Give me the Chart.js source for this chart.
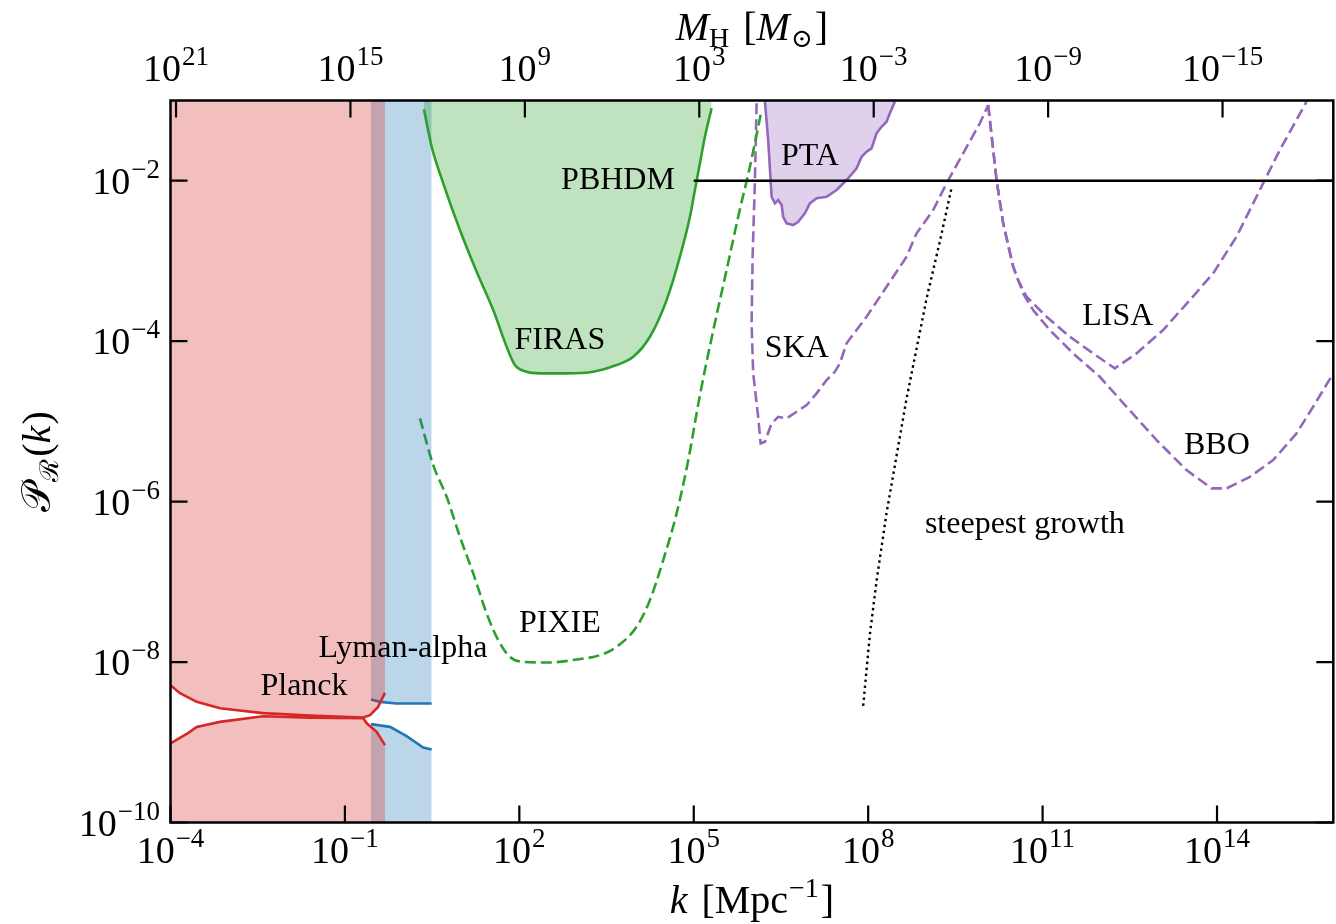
<!DOCTYPE html>
<html>
<head>
<meta charset="utf-8">
<script src="https://cdn.jsdelivr.net/npm/chart.js@4.4.1/dist/chart.umd.min.js"></script>
<style>
  html, body { margin: 0; padding: 0; background: #fff; }
  canvas { display: block; }
</style>
</head>
<body>
<canvas id="chart" width="1336" height="924"></canvas>
<script>
// Все значения хранятся как log10(k) и log10(P)
const planckUpperLogK = [-4.00, -3.837, -3.549, -3.149, -2.409, -1.601, -0.684, -0.569, -0.432, -0.311];
const planckUpperLogP = [-8.288, -8.388, -8.496, -8.575, -8.637, -8.668, -8.691, -8.662, -8.562, -8.384];
const planckLowerLogK = [-4.00, -3.699, -3.549, -3.149, -2.409, -1.601, -0.684, -0.621, -0.454, -0.311];
const planckLowerLogP = [-9.015, -8.886, -8.808, -8.746, -8.675, -8.693, -8.700, -8.766, -8.870, -9.036];

const lymanUpperLogK = [-0.552, -0.397, -0.110, 0.492];
const lymanUpperLogP = [-8.466, -8.496, -8.516, -8.516];
const lymanLowerLogK = [-0.552, -0.225, 0.062, 0.347, 0.492];
const lymanLowerLogP = [-8.774, -8.808, -8.924, -9.065, -9.090];

const firasLogK = [0.359, 0.492, 0.691, 0.978, 1.266, 1.551, 1.782, 1.924, 2.126, 2.354, 2.813,
                   3.271, 3.673, 3.959, 4.246, 4.533, 4.762, 4.934, 5.020, 5.106, 5.192, 5.307];
const firasLogP = [-1.110, -1.576, -2.032, -2.615, -3.135, -3.612, -4.070, -4.298, -4.382, -4.401, -4.401,
                   -4.382, -4.298, -4.195, -3.945, -3.488, -2.948, -2.449, -2.116, -1.783, -1.451, -1.097];

const pixieLogK = [0.291, 0.519, 0.750, 0.978, 1.207, 1.438, 1.637, 1.838, 2.067, 2.526, 2.985, 3.386,
                   3.673, 4.017, 4.246, 4.475, 4.705, 4.899, 5.106, 5.329, 5.565, 5.764, 5.966, 6.167];
const pixieLogP = [-4.963, -5.545, -5.940, -6.439, -6.895, -7.394, -7.727, -7.935, -7.998, -8.005, -7.968, -7.914,
                   -7.810, -7.561, -7.228, -6.729, -6.147, -5.507, -4.672, -3.887, -3.113, -2.449, -1.825, -1.118];

const ptaLogK = [6.224, 6.280, 6.322, 6.339, 6.396, 6.453, 6.511, 6.538, 6.597, 6.710, 6.796, 6.911, 6.997,
                 7.113, 7.285, 7.457, 7.629, 7.801, 7.887, 7.972, 8.058, 8.144, 8.230, 8.316, 8.373, 8.459];
const ptaLogP = [-1.015, -1.493, -1.991, -2.200, -2.282, -2.241, -2.303, -2.449, -2.531, -2.552, -2.511, -2.406, -2.282,
                 -2.219, -2.200, -2.116, -1.991, -1.845, -1.701, -1.638, -1.596, -1.409, -1.327, -1.264, -1.160, -1.015];

const skaLogK = [6.081, 6.052, 6.012, 5.995, 6.022, 6.108, 6.150, 6.224, 6.339, 6.452, 6.597, 6.769, 6.941, 7.113,
                 7.285, 7.427, 7.513, 7.629, 7.972, 8.316, 8.660, 8.832, 9.118, 9.348, 9.634, 9.921, 10.064];
const skaLogP = [-1.035, -1.991, -2.948, -3.778, -4.401, -4.943, -5.274, -5.254, -5.025, -4.943, -4.963, -4.880, -4.797, -4.651,
                 -4.485, -4.382, -4.277, -4.027, -3.696, -3.322, -2.948, -2.656, -2.365, -2.032, -1.658, -1.284, -1.056];

const lisaLogK = [10.064, 10.208, 10.322, 10.494, 10.580, 10.724, 11.068, 11.469, 11.869, 12.242, 12.616,
                  13.073, 13.532, 13.933, 14.335, 14.736, 15.080, 15.539];
const lisaLogP = [-1.056, -1.991, -2.531, -3.072, -3.238, -3.446, -3.696, -3.945, -4.152, -4.339, -4.152,
                  -3.862, -3.488, -3.155, -2.698, -2.116, -1.617, -1.015];

const bboLogK = [10.064, 10.208, 10.322, 10.494, 10.580, 10.665, 10.837, 11.124, 11.525, 11.984, 12.444, 12.960,
                 13.476, 13.906, 14.164, 14.565, 14.965, 15.367, 15.653, 16.0];
const bboLogP = [-1.056, -1.991, -2.531, -3.072, -3.238, -3.404, -3.612, -3.862, -4.152, -4.444, -4.818, -5.233,
                 -5.607, -5.835, -5.835, -5.691, -5.483, -5.150, -4.818, -4.401];

const steepLogK = [7.914, 8.029, 8.144, 8.316, 8.488, 8.660, 8.832, 9.004, 9.233, 9.434];
const steepLogP = [-8.546, -7.656, -6.988, -6.142, -5.429, -4.717, -4.093, -3.470, -2.757, -2.090];

const pbhdmLogK = [5.0, 16.0];
const pbhdmLogP = [-2.0, -2.0];

// Деления осей
const kTickExps = [-4, -1, 2, 5, 8, 11, 14];
const pTickExps = [-10, -8, -6, -4, -2];
const massTickExps = [21, 15, 9, 3, -3, -9, -15];
const MASS_K_OFFSET = 13.19; // log10 M_H = 13.19 - 2 log10 k

// Подписи на графике: текст, log10 k, log10 P (базовая линия), выравнивание
const labelTexts = ['PBHDM', 'FIRAS', 'PTA', 'SKA', 'LISA', 'BBO', 'PIXIE', 'Lyman-alpha', 'Planck', 'steepest growth'];
const labelLogK  = [4.676, 2.698, 6.997, 6.773, 12.294, 13.997, 2.698, -0.002, -1.704, 10.695];
const labelLogP  = [-2.104, -4.099, -1.804, -4.198, -3.799, -5.408, -7.627, -7.939, -8.413, -6.393];
const labelAlign = ['right', 'center', 'center', 'center', 'center', 'center', 'center', 'center', 'center', 'center'];

const SERIF = "'Liberation Serif', 'DejaVu Serif', serif";
const RED = '#d62728', BLUE = '#1f77b4', GREEN = '#2ca02c', PURPLE = '#9467bd';

function pts(lk, lp) {
    return lk.map((v, i) => ({ x: Math.pow(10, v), y: Math.pow(10, lp[i]) }));
}

function curve(lk, lp, color, extra) {
    return Object.assign({
        data: pts(lk, lp),
        borderColor: color,
        borderWidth: 2.6,
        pointRadius: 0,
        tension: 0,
        fill: false,
        xAxisID: 'x',
        yAxisID: 'y'
    }, extra || {});
}

const DASH = [11, 5];
const SMOOTH = { cubicInterpolationMode: 'monotone' };

// Порядок: элемент с меньшим индексом рисуется поверх
const datasets = [
    curve(pbhdmLogK, pbhdmLogP, '#000000', { borderWidth: 2.4 }),
    curve(steepLogK, steepLogP, '#000000', { borderWidth: 2.4, borderDash: [2.4, 3.6] }),
    curve(planckUpperLogK, planckUpperLogP, RED, { fill: 'end', backgroundColor: 'rgba(214,39,40,0.3)' }),
    curve(planckLowerLogK, planckLowerLogP, RED, { fill: 'start', backgroundColor: 'rgba(214,39,40,0.3)' }),
    curve(firasLogK, firasLogP, GREEN, Object.assign({ fill: 'end', backgroundColor: 'rgba(44,160,44,0.3)' }, SMOOTH)),
    curve(ptaLogK, ptaLogP, PURPLE, { fill: 'end', backgroundColor: 'rgba(148,103,189,0.3)' }),
    curve(lymanUpperLogK, lymanUpperLogP, BLUE, { fill: 'end', backgroundColor: 'rgba(31,119,180,0.3)' }),
    curve(lymanLowerLogK, lymanLowerLogP, BLUE, { fill: 'start', backgroundColor: 'rgba(31,119,180,0.3)' }),
    curve(pixieLogK, pixieLogP, GREEN, Object.assign({ borderDash: DASH }, SMOOTH)),
    curve(skaLogK, skaLogP, PURPLE, { borderDash: DASH }),
    curve(lisaLogK, lisaLogP, PURPLE, { borderDash: DASH }),
    curve(bboLogK, bboLogP, PURPLE, { borderDash: DASH })
];

function drawRich(ctx, parts, x, y, align) {
    let w = 0;
    for (const p of parts) {
        ctx.font = (p.italic ? 'italic ' : '') + p.size + 'px ' + SERIF;
        p.w = ctx.measureText(p.text).width;
        w += p.w + (p.gap || 0);
    }
    let cx = align === 'center' ? x - w / 2 : align === 'right' ? x - w : x;
    ctx.textAlign = 'left';
    ctx.textBaseline = 'alphabetic';
    for (const p of parts) {
        cx += p.gap || 0;
        ctx.font = (p.italic ? 'italic ' : '') + p.size + 'px ' + SERIF;
        ctx.fillText(p.text, cx, y - (p.rise || 0));
        cx += p.w;
    }
}

function powParts(exp) {
    return [
        { text: '10', size: 38 },
        { text: String(exp).replace('-', '\u2212'), size: 27, rise: 16, gap: 1 }
    ];
}

const TICK_LEN = 17;

const decorPlugin = {
    id: 'decor',
    afterDraw(chart) {
        const ctx = chart.ctx;
        const a = chart.chartArea;
        const xs = chart.scales.x, x2 = chart.scales.x2, ys = chart.scales.y;
        ctx.save();
        ctx.fillStyle = '#000';
        ctx.strokeStyle = '#000';

        // рамка
        ctx.lineWidth = 2.5;
        ctx.strokeRect(a.left, a.top, a.right - a.left, a.bottom - a.top);

        // деления внутрь
        ctx.lineWidth = 2.2;
        ctx.beginPath();
        xs.ticks.forEach(t => {
            const px = xs.getPixelForValue(t.value);
            ctx.moveTo(px, a.bottom); ctx.lineTo(px, a.bottom - TICK_LEN);
        });
        x2.ticks.forEach(t => {
            const px = x2.getPixelForValue(t.value);
            ctx.moveTo(px, a.top); ctx.lineTo(px, a.top + TICK_LEN);
        });
        ys.ticks.forEach(t => {
            const py = ys.getPixelForValue(t.value);
            ctx.moveTo(a.left, py); ctx.lineTo(a.left + TICK_LEN, py);
            ctx.moveTo(a.right, py); ctx.lineTo(a.right - TICK_LEN, py);
        });
        ctx.stroke();

        // подписи делений
        kTickExps.forEach(e => {
            drawRich(ctx, powParts(e), xs.getPixelForValue(Math.pow(10, e)), 863, 'center');
        });
        massTickExps.forEach(e => {
            const px = x2.getPixelForValue(Math.pow(10, (MASS_K_OFFSET - e) / 2));
            drawRich(ctx, powParts(e), px, 81, 'center');
        });
        pTickExps.forEach(e => {
            drawRich(ctx, powParts(e), 160, ys.getPixelForValue(Math.pow(10, e)) + 13, 'right');
        });

        // подписи кривых
        labelTexts.forEach((txt, i) => {
            const px = xs.getPixelForValue(Math.pow(10, labelLogK[i]));
            const py = ys.getPixelForValue(Math.pow(10, labelLogP[i]));
            drawRich(ctx, [{ text: txt, size: 32 }], px, py, labelAlign[i]);
        });

        // названия осей
        const midX = (a.left + a.right) / 2;
        drawRich(ctx, [
            { text: 'k', size: 40, italic: true },
            { text: ' [Mpc', size: 40, gap: 4 },
            { text: '\u22121', size: 28, rise: 16, gap: 1 },
            { text: ']', size: 40, gap: 2 }
        ], midX, 913, 'center');

        drawRich(ctx, [
            { text: 'M', size: 40, italic: true },
            { text: 'H', size: 28, rise: -7 },
            { text: ' [', size: 40, gap: 4 },
            { text: 'M', size: 40, italic: true },
            { text: '\u2299', size: 26, rise: -7, gap: 1 },
            { text: ']', size: 40, gap: 2 }
        ], midX, 40, 'center');

        ctx.save();
        ctx.translate(50, (a.top + a.bottom) / 2);
        ctx.rotate(-Math.PI / 2);
        drawRich(ctx, [
            { text: '\uD835\uDCAB', size: 40 },
            { text: '\u211B', size: 26, rise: -8, gap: 1 },
            { text: '(', size: 40, gap: 2 },
            { text: 'k', size: 40, italic: true },
            { text: ')', size: 40, gap: 1 }
        ], 0, 0, 'center');
        ctx.restore();

        ctx.restore();
    }
};

function logScale(position, min, max, ticksFn, fit) {
    return {
        type: 'logarithmic',
        position: position,
        min: min,
        max: max,
        grid: { display: false },
        border: { display: false },
        ticks: { display: false },
        afterBuildTicks: s => { s.ticks = ticksFn(); },
        afterFit: fit
    };
}

const chart = new Chart(document.getElementById('chart').getContext('2d'), {
    type: 'line',
    data: { datasets: datasets },
    options: {
        responsive: false,
        animation: false,
        devicePixelRatio: 1,
        layout: { padding: 0 },
        plugins: { legend: { display: false }, tooltip: { enabled: false } },
        scales: {
            x: logScale('bottom', 1e-4, 1e16, () => kTickExps.map(e => ({ value: Math.pow(10, e) })), s => { s.height = 101.5; }),
            x2: logScale('top', 1e-4, 1e16, () => massTickExps.map(e => ({ value: Math.pow(10, (MASS_K_OFFSET - e) / 2) })), s => { s.height = 100.5; }),
            y: logScale('left', 1e-10, 1e-1, () => pTickExps.map(e => ({ value: Math.pow(10, e) })), s => { s.width = 170.5; }),
            y2: logScale('right', 1e-10, 1e-1, () => pTickExps.map(e => ({ value: Math.pow(10, e) })), s => { s.width = 2.7; })
        }
    },
    plugins: [decorPlugin]
});
</script>
</body>
</html>
